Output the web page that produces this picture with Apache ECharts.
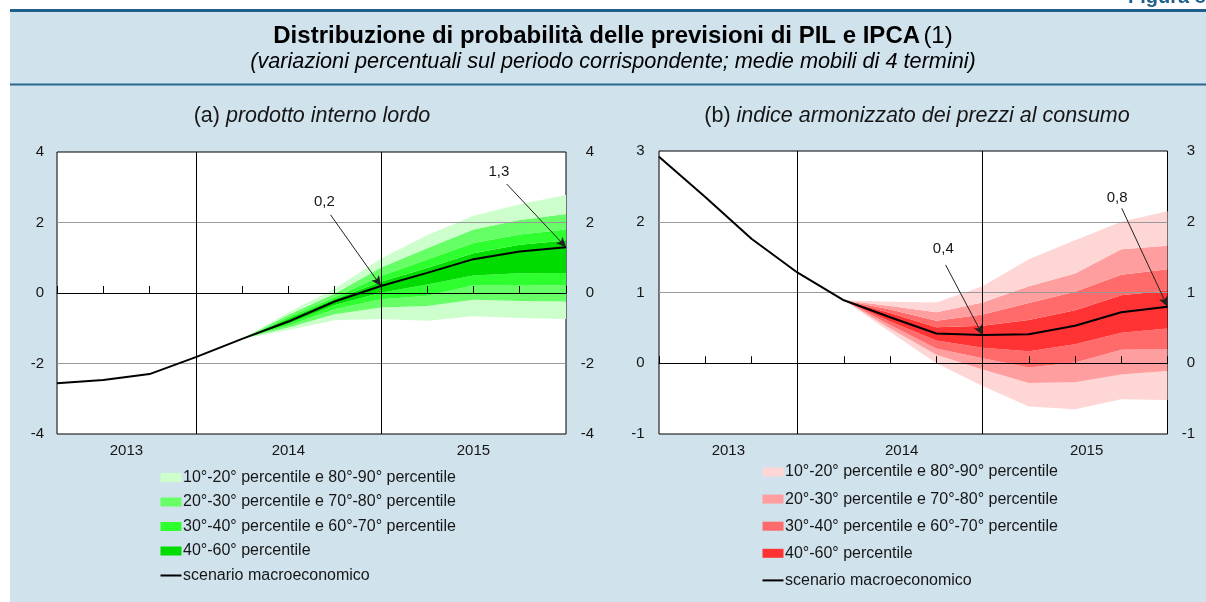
<!DOCTYPE html>
<html>
<head>
<meta charset="utf-8">
<script src="https://cdn.jsdelivr.net/npm/echarts@6/dist/echarts.min.js"></script>
<style>
  html, body { margin: 0; padding: 0; background: #ffffff; }
  #chart { width: 1206px; height: 602px; }
</style>
</head>
<body>
<div id="chart"></div>
<script>
// Quarterly points, 2013 Q2 .. 2015 Q4 (index 0..11); fan starts at index 4
const quarters = ['2013T2', '2013T3', '2013T4', '2014T1', '2014T2', '2014T3', '2014T4',
                  '2015T1', '2015T2', '2015T3', '2015T4', '2016T1'];
const yearBreaks = [3, 7];

// (a) GDP: macroeconomic scenario and percentile bounds
const gdpLine = [-2.56, -2.47, -2.30, -1.82, -1.30, -0.81, -0.24, 0.2, 0.57, 0.96, 1.18, 1.3];
const gdpP90 = [null, null, null, null, -1.30, -0.55, 0.12, 0.97, 1.64, 2.19, 2.52, 2.78];
const gdpP80 = [null, null, null, null, -1.30, -0.62, -0.02, 0.72, 1.27, 1.80, 2.07, 2.24];
const gdpP70 = [null, null, null, null, -1.30, -0.68, -0.12, 0.48, 0.95, 1.42, 1.66, 1.80];
const gdpP60 = [null, null, null, null, -1.30, -0.73, -0.18, 0.32, 0.71, 1.13, 1.37, 1.49];
const gdpP40 = [null, null, null, null, -1.30, -0.87, -0.34, 0.01, 0.24, 0.50, 0.56, 0.57];
const gdpP30 = [null, null, null, null, -1.30, -0.92, -0.46, -0.18, -0.08, 0.22, 0.23, 0.21];
const gdpP20 = [null, null, null, null, -1.30, -0.98, -0.60, -0.41, -0.37, -0.19, -0.23, -0.24];
const gdpP10 = [null, null, null, null, -1.30, -1.05, -0.77, -0.74, -0.79, -0.66, -0.71, -0.74];

// (b) HICP: macroeconomic scenario and percentile bounds
const cpiLine = [2.92, 2.35, 1.76, 1.28, 0.89, 0.65, 0.42, 0.4, 0.41, 0.53, 0.72, 0.8];
const cpiP90 = [null, null, null, null, 0.89, 0.87, 0.86, 1.09, 1.47, 1.74, 2.00, 2.15];
const cpiP80 = [null, null, null, null, 0.89, 0.81, 0.72, 0.86, 1.09, 1.27, 1.61, 1.66];
const cpiP70 = [null, null, null, null, 0.89, 0.76, 0.60, 0.69, 0.85, 1.01, 1.25, 1.33];
const cpiP60 = [null, null, null, null, 0.89, 0.71, 0.51, 0.53, 0.61, 0.75, 0.96, 1.03];
const cpiP40 = [null, null, null, null, 0.89, 0.59, 0.32, 0.22, 0.17, 0.27, 0.43, 0.49];
const cpiP30 = [null, null, null, null, 0.89, 0.54, 0.21, 0.07, -0.06, 0.01, 0.19, 0.20];
const cpiP20 = [null, null, null, null, 0.89, 0.49, 0.12, -0.09, -0.28, -0.27, -0.16, -0.11];
const cpiP10 = [null, null, null, null, 0.89, 0.44, 0.00, -0.32, -0.61, -0.65, -0.51, -0.52];

// Year labels placed under each panel's axis (positions in quarter index units)
const gdpYearLabels = { 1.5: '2013', 5: '2014', 9: '2015' };
const cpiYearLabels = { 1.5: '2013', 5.25: '2014', 9.25: '2015' };

// Callouts: [label x, label y, arrow start x, arrow start y, index of marked point]
const gdpCallouts = [[5.78, 2.58, 5.91, 2.22, 7], [9.55, 3.45, 9.72, 3.09, 11]];
const cpiCallouts = [[6.15, 1.62, 6.20, 1.39, 7], [9.91, 2.34, 10.01, 2.19, 11]];

const legendNames = [
  '10°-20° percentile e 80°-90° percentile',
  '20°-30° percentile e 70°-80° percentile',
  '30°-40° percentile e 60°-70° percentile',
  '40°-60° percentile',
  'scenario macroeconomico'
];

const greens = ['#ccffcc', '#66ff66', '#2eff2e', '#00dc00'];
const reds = ['#ffd6d6', '#ff9e9e', '#ff6a6a', '#ff3333'];

const FONT = "'Liberation Sans', Arial, Helvetica, sans-serif";
const TXT = '#161616';
const fmt = v => v.toFixed(1).replace('.', ',');

const plain = arr => arr.map(v => (v == null ? '-' : v));
const diff = (hi, lo) => hi.map((v, i) => (v == null || lo[i] == null) ? '-' : +(v - lo[i]).toFixed(4));

function fanSeries(panel, stackId, levels, colors, line, callouts) {
  const [p10, p20, p30, p40, p60, p70, p80, p90] = levels;
  // bands are stacked on the category axis; each one fills the gap to the previous level
  const base = {
    type: 'line', xAxisIndex: panel * 2, yAxisIndex: panel * 2,
    stack: stackId, stackStrategy: 'all', symbol: 'none', silent: true,
    animation: false, z: 2
  };
  const band = (data, color) => Object.assign({}, base, {
    data, lineStyle: { width: 0, opacity: 0 },
    areaStyle: { color, opacity: 1 }
  });
  const out = [
    Object.assign({}, base, { data: plain(p10), lineStyle: { width: 0, opacity: 0 } }),
    band(diff(p20, p10), colors[0]),
    band(diff(p30, p20), colors[1]),
    band(diff(p40, p30), colors[2]),
    band(diff(p60, p40), colors[3]),
    band(diff(p70, p60), colors[2]),
    band(diff(p80, p70), colors[1]),
    band(diff(p90, p80), colors[0])
  ];
  const arrows = callouts.map(c => [
    { coord: [c[2], c[3]], symbol: 'none', lineStyle: { color: '#222', width: 1 } },
    { coord: [c[4], line[c[4]]], symbol: 'arrow', symbolSize: [7, 10] }
  ]);
  // the scenario line sits on the companion value axis so callouts can use fractional positions
  out.push({
    type: 'line', xAxisIndex: panel * 2 + 1, yAxisIndex: panel * 2,
    data: line.map((v, i) => [i, v]), symbol: 'none', silent: true, animation: false, z: 6,
    lineStyle: { color: '#000', width: 2 },
    markLine: {
      silent: true, animation: false, symbol: ['none', 'none'],
      label: { show: false },
      lineStyle: { color: '#000', width: 1, type: 'solid' },
      emphasis: { disabled: true },
      data: yearBreaks.map(b => ({ xAxis: b })).concat(arrows)
    },
    markPoint: {
      silent: true, animation: false, symbol: 'circle', symbolSize: 1,
      itemStyle: { color: 'rgba(0,0,0,0)' },
      label: { show: true, position: 'inside', color: TXT, fontSize: 15, fontFamily: FONT,
               formatter: p => fmt(p.value) },
      data: callouts.map(c => ({ coord: [c[0], c[1]], value: line[c[4]] }))
    }
  });
  return out;
}

function xAxes(gridIndex, yearMap) {
  return [
    {
      type: 'category', gridIndex, data: quarters, boundaryGap: false,
      axisLine: { show: true, lineStyle: { color: '#000', width: 1 } },
      axisTick: { show: true, inside: true, length: 7, interval: 0, lineStyle: { color: '#000', width: 1 } },
      axisLabel: { show: false }, splitLine: { show: false }, z: 4
    },
    {
      type: 'value', gridIndex, min: 0, max: 11, interval: 0.25, position: 'bottom',
      axisLine: { show: false }, axisTick: { show: false }, splitLine: { show: false },
      axisLabel: {
        show: true, margin: 9, fontSize: 15, color: TXT, fontFamily: FONT,
        showMinLabel: true, showMaxLabel: true,
        formatter: v => yearMap[v] || ''
      }
    }
  ];
}

function yAxes(gridIndex, min, max, interval, leftMargin, rightMargin) {
  const label = { fontSize: 15, color: TXT, fontFamily: FONT, formatter: v => String(v) };
  return [
    {
      type: 'value', gridIndex, min, max, interval, position: 'left', z: 3,
      axisLine: { show: false }, axisTick: { show: false },
      axisLabel: Object.assign({ margin: leftMargin }, label),
      splitLine: { show: true, showMinLine: false, showMaxLine: false,
                   lineStyle: { color: '#9a9a9a', width: 1 } }
    },
    {
      type: 'value', gridIndex, min, max, interval, position: 'right',
      axisLine: { show: false }, axisTick: { show: false },
      axisLabel: Object.assign({ margin: rightMargin, align: 'right' }, label),
      splitLine: { show: false }
    }
  ];
}

function legendGraphics(x, y0, step, colors) {
  const els = [];
  legendNames.forEach((name, i) => {
    const y = y0 + i * step;
    if (i < 4) {
      els.push({ type: 'rect', shape: { x, y: y - 4.5, width: 21, height: 9 },
                 style: { fill: colors[i] } });
    } else {
      els.push({ type: 'rect', shape: { x, y: y - 1, width: 21, height: 2 },
                 style: { fill: '#000' } });
    }
    els.push({ type: 'text', x: x + 22.5, y,
               style: { text: name, font: `16px ${FONT}`, fill: TXT, verticalAlign: 'middle' } });
  });
  return els;
}

const chart = echarts.init(document.getElementById('chart'), null, { renderer: 'canvas' });

const option = {
  backgroundColor: '#d0e2ec',
  animation: false,
  grid: [
    { left: 57, right: 640, top: 152, bottom: 168, show: true, backgroundColor: '#ffffff',
      borderColor: '#000', borderWidth: 1, z: 0 },
    { left: 659, right: 38.5, top: 151, bottom: 168, show: true, backgroundColor: '#ffffff',
      borderColor: '#000', borderWidth: 1, z: 0 }
  ],
  xAxis: xAxes(0, gdpYearLabels).concat(xAxes(1, cpiYearLabels)),
  yAxis: yAxes(0, -4, 4, 2, 13, 28).concat(yAxes(1, -1, 3, 1, 14.5, 27.5)),
  series: []
      .concat(fanSeries(0, 'gdpFan', [gdpP10, gdpP20, gdpP30, gdpP40, gdpP60, gdpP70, gdpP80, gdpP90], greens, gdpLine, gdpCallouts))
      .concat(fanSeries(1, 'cpiFan', [cpiP10, cpiP20, cpiP30, cpiP40, cpiP60, cpiP70, cpiP80, cpiP90], reds, cpiLine, cpiCallouts)),
  graphic: [
    // white margin strips and header rules
    { type: 'rect', shape: { x: 0, y: 0, width: 1206, height: 9 }, style: { fill: '#ffffff' }, z: -1 },
    { type: 'rect', shape: { x: 0, y: 0, width: 10, height: 602 }, style: { fill: '#ffffff' }, z: -1 },
    { type: 'text', x: 1128, y: 7,
      style: { text: 'Figura 8', font: `bold 20px ${FONT}`, fill: '#1f5f8b', verticalAlign: 'bottom' } },
    { type: 'rect', shape: { x: 10, y: 9, width: 1196, height: 3 }, style: { fill: '#1f5f8b' } },
    { type: 'rect', shape: { x: 10, y: 83.5, width: 1196, height: 2 }, style: { fill: '#2a6892' } },
    // main title and subtitle
    { type: 'text', x: 613, y: 36,
      style: { text: '{b|Distribuzione di probabilità delle previsioni di PIL e IPCA} {n|(1)}',
               align: 'center', verticalAlign: 'middle',
               rich: { b: { font: `bold 24px ${FONT}`, fill: '#000' },
                       n: { font: `24px ${FONT}`, fill: '#000' } } } },
    { type: 'text', x: 613, y: 62,
      style: { text: '(variazioni percentuali sul periodo corrispondente; medie mobili di 4 termini)',
               font: `italic 21.7px ${FONT}`, fill: '#000', align: 'center', verticalAlign: 'middle' } },
    // panel titles
    { type: 'text', x: 312, y: 116,
      style: { text: '{n|(a) }{i|prodotto interno lordo}', align: 'center', verticalAlign: 'middle',
               rich: { n: { font: `21.5px ${FONT}`, fill: TXT }, i: { font: `italic 21.5px ${FONT}`, fill: TXT } } } },
    { type: 'text', x: 917, y: 116,
      style: { text: '{n|(b) }{i|indice armonizzato dei prezzi al consumo}', align: 'center', verticalAlign: 'middle',
               rich: { n: { font: `21.5px ${FONT}`, fill: TXT }, i: { font: `italic 21.5px ${FONT}`, fill: TXT } } } }
  ]
      .concat(legendGraphics(160.5, 477.5, 24.5, greens))
      .concat(legendGraphics(762.5, 472, 27.1, reds))
};

chart.setOption(option);
</script>
</body>
</html>
